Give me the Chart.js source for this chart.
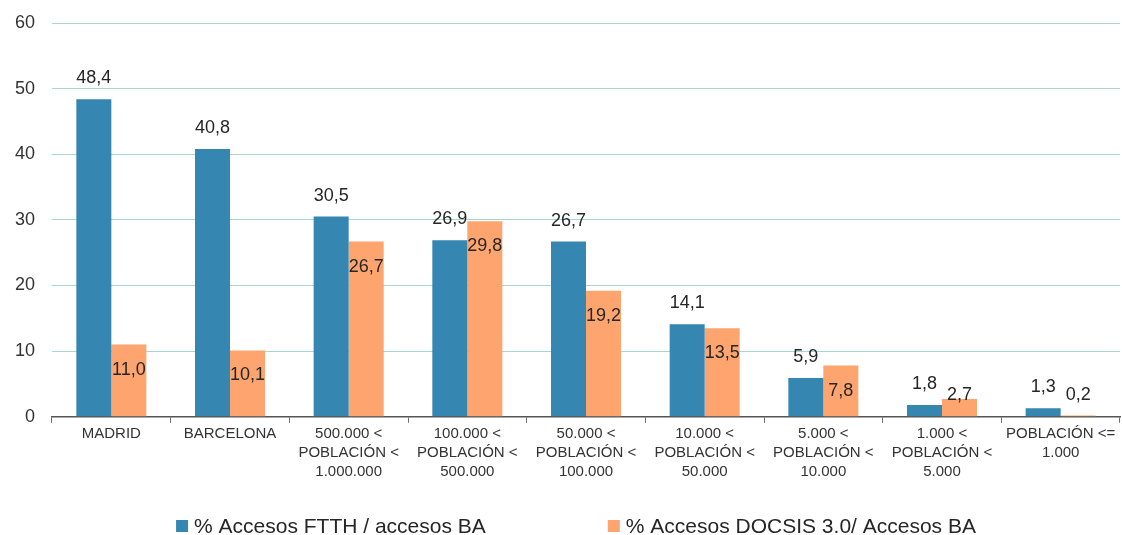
<!DOCTYPE html>
<html><head><meta charset="utf-8">
<script src="https://cdn.jsdelivr.net/npm/chart.js@4.4.1/dist/chart.umd.min.js"></script>
<style>html,body{margin:0;padding:0;background:#fff}</style>
</head><body>
<canvas id="c" width="1122" height="535"></canvas>
<script>
const categories = [
  ['MADRID'],
  ['BARCELONA'],
  ['500.000 <', 'POBLACIÓN <', '1.000.000'],
  ['100.000 <', 'POBLACIÓN <', '500.000'],
  ['50.000 <', 'POBLACIÓN <', '100.000'],
  ['10.000 <', 'POBLACIÓN <', '50.000'],
  ['5.000 <', 'POBLACIÓN <', '10.000'],
  ['1.000 <', 'POBLACIÓN <', '5.000'],
  ['POBLACIÓN <=', '1.000']
];
const ftthValues = [48.4, 40.8, 30.5, 26.9, 26.7, 14.1, 5.9, 1.8, 1.3];
const docsisValues = [11.0, 10.1, 26.7, 29.8, 19.2, 13.5, 7.8, 2.7, 0.2];
const yTicks = [0, 10, 20, 30, 40, 50, 60];
const seriesNames = ['% Accesos FTTH / accesos BA', '% Accesos DOCSIS 3.0/ Accesos BA'];
const seriesColors = ['#3586B1', '#FDA46F'];

const FONT = "'Liberation Sans', Arial, sans-serif";
const fmt = v => v.toFixed(1).replace('.', ',');

const labelPlugin = {
  id: 'valueLabels',
  afterDatasetsDraw(chart) {
    const ctx = chart.ctx;
    ctx.save();
    ctx.font = '18px ' + FONT;
    ctx.fillStyle = '#262626';
    ctx.textAlign = 'center';
    ctx.textBaseline = 'middle';
    chart.data.datasets.forEach((ds, di) => {
      const meta = chart.getDatasetMeta(di);
      meta.data.forEach((el, i) => {
        const v = ds.data[i];
        let y;
        if (di === 0) {
          y = el.y - 21;
        } else {
          y = Math.min(el.y + 25, el.base - 21);
        }
        ctx.fillText(fmt(v), el.x, y);
      });
    });
    ctx.restore();
  }
};

const legendPlugin = {
  id: 'customLegend',
  afterDraw(chart) {
    const ctx = chart.ctx;
    ctx.save();
    ctx.font = '21px ' + FONT;
    ctx.textBaseline = 'middle';
    const box = 12, gapText = 6, gapItems = 122;
    const widths = seriesNames.map(n => box + gapText + ctx.measureText(n).width);
    const total = widths[0] + gapItems + widths[1];
    const ca = chart.chartArea;
    let x = (ca.left + ca.right) / 2 - 10 - total / 2;
    const y = 526;
    seriesNames.forEach((n, i) => {
      ctx.fillStyle = seriesColors[i];
      ctx.fillRect(x, y - box / 2, box, box);
      ctx.fillStyle = '#262626';
      ctx.textAlign = 'left';
      ctx.fillText(n, x + box + gapText, y + 1);
      x += widths[i] + gapItems;
    });
    ctx.restore();
  }
};

new Chart(document.getElementById('c'), {
  type: 'bar',
  data: {
    labels: categories,
    datasets: [
      { label: seriesNames[0], data: ftthValues, backgroundColor: seriesColors[0],
        categoryPercentage: 0.59, barPercentage: 1.0 },
      { label: seriesNames[1], data: docsisValues, backgroundColor: seriesColors[1],
        categoryPercentage: 0.59, barPercentage: 1.0 }
    ]
  },
  options: {
    responsive: false,
    animation: false,
    devicePixelRatio: 1,
    layout: { padding: { top: 23, right: 2, bottom: 52, left: 0 } },
    plugins: { legend: { display: false }, tooltip: { enabled: false } },
    scales: {
      x: {
        grid: { display: true, drawOnChartArea: false, drawTicks: true, tickLength: 6, color: '#6b6b6b', offset: true },
        border: { display: true, color: '#555555', width: 1.5 },
        ticks: { font: { family: FONT, size: 15, lineHeight: 1.25 }, color: '#333333', padding: 2, maxRotation: 0, autoSkip: false }
      },
      y: {
        min: 0, max: 60,
        afterBuildTicks: s => { s.ticks = yTicks.map(v => ({ value: v })); },
        afterFit: s => { s.width = 52; s.paddingTop = 0; s.paddingBottom = 0; },
        grid: { color: '#A8D5CE', lineWidth: 1, drawTicks: false },
        border: { display: false },
        ticks: { font: { family: FONT, size: 18, lineHeight: 0.5 }, color: '#333333', padding: 17 }
      }
    }
  },
  plugins: [labelPlugin, legendPlugin]
});
</script>
</body></html>
